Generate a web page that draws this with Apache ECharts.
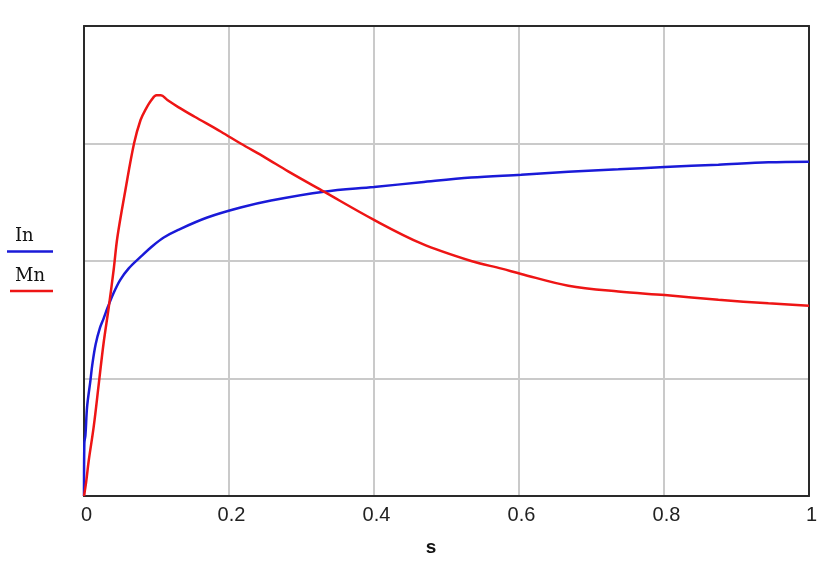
<!DOCTYPE html>
<html>
<head>
<meta charset="utf-8">
<script src="https://cdn.jsdelivr.net/npm/echarts@6/dist/echarts.min.js"></script>
<style>
html,body{margin:0;padding:0;background:#fff;}
#chart{width:836px;height:563px;}
</style>
</head>
<body>
<div id="chart"></div>
<script>
// Slip values (x) and curve values (y)
var slipIn = [0, 0.0005, 0.002, 0.0043, 0.0088, 0.0115, 0.016, 0.022, 0.027, 0.033, 0.041, 0.05, 0.062, 0.078, 0.095, 0.11, 0.13, 0.17, 0.216, 0.258, 0.331, 0.4, 0.465, 0.534, 0.603, 0.668, 0.737, 0.801, 0.875, 0.944, 1.0];
var currentIn = [0, 0.45, 0.52, 0.76, 0.98, 1.12, 1.29, 1.43, 1.51, 1.61, 1.73, 1.84, 1.94, 2.035, 2.13, 2.2, 2.265, 2.37, 2.455, 2.515, 2.59, 2.63, 2.67, 2.71, 2.735, 2.76, 2.78, 2.80, 2.82, 2.84, 2.845];
var slipMn = [0, 0.003, 0.0065, 0.0134, 0.0203, 0.027, 0.034, 0.041, 0.046, 0.057, 0.069, 0.078, 0.085, 0.093, 0.1, 0.106, 0.115, 0.13, 0.152, 0.189, 0.216, 0.25, 0.281, 0.331, 0.4, 0.465, 0.534, 0.576, 0.603, 0.668, 0.737, 0.801, 0.875, 0.944, 1.0];
var torqueMn = [0, 0.12, 0.3, 0.59, 0.95, 1.3, 1.6, 1.93, 2.2, 2.6, 3.0, 3.2, 3.29, 3.37, 3.41, 3.41, 3.37, 3.31, 3.23, 3.10, 3.0, 2.88, 2.765, 2.59, 2.35, 2.15, 2.0, 1.935, 1.89, 1.79, 1.74, 1.71, 1.67, 1.64, 1.62];
var xTicks = [0, 0.2, 0.4, 0.6, 0.8, 1];
var legendNames = ['In', 'Mn'];
var axisName = 's';

function pairs(xs, ys) {
  var out = [];
  for (var i = 0; i < xs.length; i++) out.push([xs[i], ys[i]]);
  return out;
}

var frameLine = { show: true, onZero: false, lineStyle: { color: '#2a2a2a', width: 2 } };
var gridLine = { show: true, lineStyle: { color: '#cacaca', width: 2 } };

var chart = echarts.init(document.getElementById('chart'));
var option = {
  animation: false,
  backgroundColor: '#ffffff',
  grid: {
    left: 84, right: 27, top: 26, bottom: 67,
    show: false, containLabel: false
  },
  xAxis: [
    {
      type: 'value', min: 0, max: 1, interval: 0.2, position: 'bottom',
      axisLine: frameLine,
      axisTick: { show: false },
      axisLabel: {
        show: true, margin: 9, color: '#222',
        fontFamily: 'Liberation Sans', fontSize: 20, padding: [0, 0, 0, 5],
        formatter: function (v) { var r = +v.toFixed(1); return xTicks.indexOf(r) >= 0 ? String(r) : ''; }
      },
      splitLine: gridLine
    },
    {
      type: 'value', min: 0, max: 1, interval: 0.2, position: 'top',
      axisLine: frameLine, axisTick: { show: false }, axisLabel: { show: false }, splitLine: { show: false }
    }
  ],
  yAxis: [
    {
      type: 'value', min: 0, max: 4, interval: 1, position: 'left',
      axisLine: frameLine, axisTick: { show: false }, axisLabel: { show: false },
      splitLine: gridLine
    },
    {
      type: 'value', min: 0, max: 4, interval: 1, position: 'right',
      axisLine: frameLine, axisTick: { show: false }, axisLabel: { show: false }, splitLine: { show: false }
    }
  ],
  series: [
    {
      name: legendNames[0], type: 'line', showSymbol: false,
      smooth: 0.35,
      data: pairs(slipIn, currentIn),
      lineStyle: { color: '#1a1ad8', width: 2.5 }, z: 3
    },
    {
      name: legendNames[1], type: 'line', showSymbol: false,
      smooth: 0.35,
      data: pairs(slipMn, torqueMn),
      lineStyle: { color: '#ee1515', width: 2.5 }, z: 4
    }
  ],
  graphic: [
    { type: 'text', x: 15, y: 236, style: { text: legendNames[0], fill: '#111', font: '18px "DejaVu Serif"', textVerticalAlign: 'middle' } },
    { type: 'line', shape: { x1: 7, y1: 251.5, x2: 53, y2: 251.5 }, style: { stroke: '#1a1ad8', lineWidth: 2.5 } },
    { type: 'text', x: 15, y: 276, style: { text: legendNames[1], fill: '#111', font: '18px "DejaVu Serif"', textVerticalAlign: 'middle' } },
    { type: 'line', shape: { x1: 10, y1: 291, x2: 53, y2: 291 }, style: { stroke: '#ee1515', lineWidth: 2.5 } },
    { type: 'text', x: 431, y: 548, style: { text: axisName, fill: '#111', font: 'bold 19px "Liberation Sans"', textAlign: 'center', textVerticalAlign: 'middle' } }
  ]
};
chart.setOption(option);
</script>
</body>
</html>
